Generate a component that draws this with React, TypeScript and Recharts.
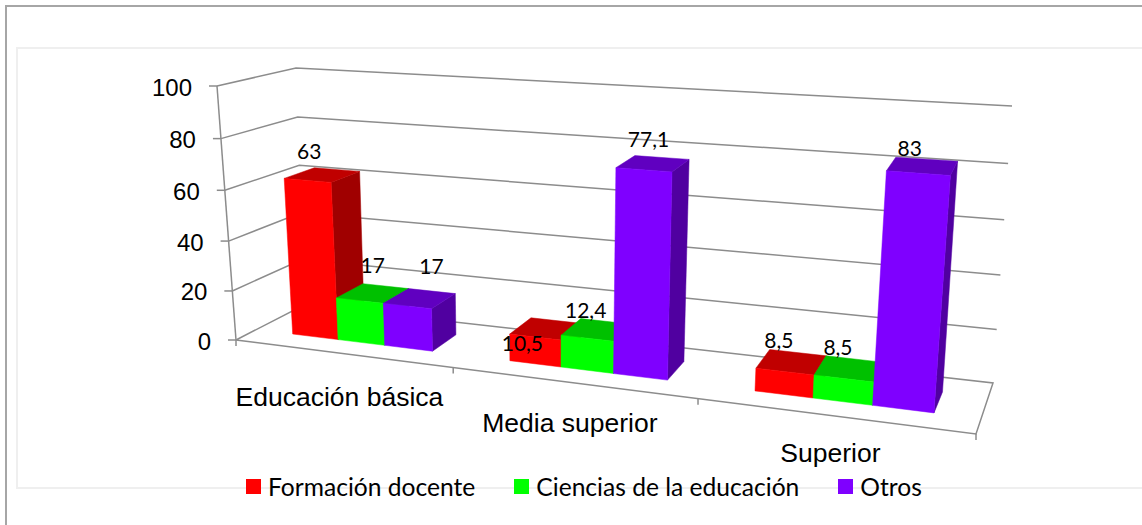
import { Bar, BarChart, CartesianGrid, LabelList, Legend, XAxis, YAxis } from "recharts";

const categories = ["Educación básica", "Media superior", "Superior"];
const formacionDocente = [63, 10.5, 8.5];
const cienciasEducacion = [17, 12.4, 8.5];
const otros = [17, 77.1, 83];
const yTicks = [0, 20, 40, 60, 80, 100];

const chartData = categories.map((name, i) => ({
  name,
  formacion: formacionDocente[i],
  ciencias: cienciasEducacion[i],
  otros: otros[i],
}));

const CHART_W = 1142;
const CHART_H = 525;
const PLOT_LEFT = 100;
const PLOT_W = 1000;
const PLOT_TOP = 20;
const PLOT_H = 405;
const PLOT_BOTTOM = PLOT_TOP + PLOT_H;

const GRID = "#8c8c8c";
const SANS = "'Liberation Sans', Arial, sans-serif";
const LABEL_FONT = "Lato, 'Open Sans', sans-serif";

// corners of the 3D box on screen: [t][v][d]
const C000 = [236, 340];
const C010 = [217, 86];
const C001 = [304, 305];
const C011 = [296, 68];
const C100 = [976, 434];
const C110 = [1000, 137];
const C101 = [993, 383];
const C111 = [1012, 106];
const PERSP_X = 0.831; // horizontal foreshortening, left side is further away
const PERSP_Y = 0.957; // vertical foreshortening, the top is a bit closer

const mix = (a: number, b: number, k: number) => a + (b - a) * k;

function project(xFlat: number, yFlat: number, d: number) {
  const t = (xFlat - PLOT_LEFT) / PLOT_W;
  const r = (PLOT_BOTTOM - yFlat) / PLOT_H;
  const s = (PERSP_X * t) / (1 + (PERSP_X - 1) * t);
  const v = (PERSP_Y * r) / (1 + (PERSP_Y - 1) * r);
  const at = (axis: number) => {
    const a = mix(mix(C000[axis], C010[axis], v), mix(C001[axis], C011[axis], v), d);
    const b = mix(mix(C100[axis], C110[axis], v), mix(C101[axis], C111[axis], v), d);
    return mix(a, b, s);
  };
  return [at(0), at(1)];
}

const pts = (list: number[][]) => list.map((p) => `${p[0].toFixed(1)},${p[1].toFixed(1)}`).join(" ");

const BAR_FRONT = 0.3;
const BAR_BACK = 0.72;
const BAR_NUDGE = 3;

function Box3D(props: any) {
  const { y, width, height, fill, topFill, sideFill } = props;
  if (width == null || height == null) return null;
  const x = props.x + BAR_NUDGE;
  const r = x + width;
  const b = y + height;
  const front = [project(x, y, BAR_FRONT), project(r, y, BAR_FRONT), project(r, b, BAR_FRONT), project(x, b, BAR_FRONT)];
  const top = [project(x, y, BAR_FRONT), project(r, y, BAR_FRONT), project(r, y, BAR_BACK), project(x, y, BAR_BACK)];
  const side = [project(r, y, BAR_FRONT), project(r, y, BAR_BACK), project(r, b, BAR_BACK), project(r, b, BAR_FRONT)];
  return (
    <g>
      <polygon points={pts(side)} fill={sideFill} stroke={sideFill} strokeWidth={0.5} />
      <polygon points={pts(top)} fill={topFill} stroke={topFill} strokeWidth={0.5} />
      <polygon points={pts(front)} fill={fill} stroke={fill} strokeWidth={0.5} />
    </g>
  );
}

// horizontal lines run along the left wall and the back wall, the zero line closes the floor
function GridLine(props: any) {
  const { x1, x2, y1, key } = props;
  const pa = project(x1, y1, 0);
  const pb = project(x1, y1, 1);
  const pc = project(x2, y1, 1);
  const isFloor = Math.abs(y1 - PLOT_BOTTOM) < 0.5;
  const list = isFloor ? [pa, pb, pc, project(x2, y1, 0), pa] : [pa, pb, pc];
  return <polyline key={key} points={pts(list)} fill="none" stroke={GRID} strokeWidth={1.5} />;
}

function YTick(props: any) {
  const { y, payload } = props;
  const p = project(PLOT_LEFT, y, 0);
  const top = project(PLOT_LEFT, PLOT_TOP, 0);
  return (
    <g>
      {payload.value === 0 && <line x1={p[0]} y1={p[1]} x2={top[0]} y2={top[1]} stroke={GRID} strokeWidth={1.5} />}
      <line x1={p[0] - 8} y1={p[1]} x2={p[0]} y2={p[1]} stroke={GRID} strokeWidth={1.5} />
      <text x={p[0] - 25} y={p[1] + 1} textAnchor="end" dominantBaseline="central" fontFamily={SANS} fontSize={24} fill="#000">
        {payload.value}
      </text>
    </g>
  );
}

function XTick(props: any) {
  const { x, payload, index } = props;
  const band = PLOT_W / categories.length;
  const p = project(x, PLOT_BOTTOM, 0);
  const t = (x - PLOT_LEFT) / PLOT_W;
  const end = project(x + band / 2, PLOT_BOTTOM, 0);
  const start = project(x - band / 2, PLOT_BOTTOM, 0);
  return (
    <g>
      {index === 0 && <line x1={start[0]} y1={start[1]} x2={start[0]} y2={start[1] + 6} stroke={GRID} strokeWidth={1.5} />}
      <line x1={end[0]} y1={end[1]} x2={end[0]} y2={end[1] + 6} stroke={GRID} strokeWidth={1.5} />
      <text x={p[0] - 2} y={p[1] + 44 - (t - 1 / 6) * 10.5} textAnchor="middle" dominantBaseline="central" fontFamily={SANS} fontSize={26.5} fill="#000">
        {payload.value}
      </text>
    </g>
  );
}

// the original labels are not centred on their bars, so each has its own shift
const formacionShift = [[-11, -24], [-21, 14], [-10, -22]];
const cienciasShift = [[2, -29], [-9, -20], [-9, -22]];
const otrosShift = [[14, -33], [-2, -25], [-10, -19]];

function topLabel(shift: number[][]) {
  return function TopLabel(props: any) {
    const { x, y, width } = props.viewBox ?? props;
    const { value, index } = props;
    const mid = (BAR_FRONT + BAR_BACK) / 2;
    const p = project(x + width / 2, y, mid);
    const [dx, dy] = shift[index];
    return (
      <text x={p[0] + dx} y={p[1] + dy} textAnchor="middle" dominantBaseline="central" fontFamily={LABEL_FONT} fontSize={21} fill="#000">
        {String(value).replace(".", ",")}
      </text>
    );
  };
}

function LegendRow(props: any) {
  const { payload } = props;
  return (
    <div style={{ display: "flex", alignItems: "center", fontFamily: LABEL_FONT, fontSize: 24.6, color: "#000" }}>
      {(payload ?? []).map((entry: any, i: number) => (
        <div key={entry.value} style={{ display: "flex", alignItems: "center", marginLeft: i === 0 ? 0 : 39 }}>
          <span style={{ width: 15, height: 15, background: entry.color, marginRight: 7, display: "inline-block" }} />
          <span>{entry.value}</span>
        </div>
      ))}
    </div>
  );
}

export default function App() {
  return (
    <div style={{ position: "absolute", left: 0, top: 0, width: CHART_W, height: CHART_H, background: "#fff", overflow: "hidden" }}>
      <div style={{ position: "absolute", left: 5, top: 5, width: CHART_W, height: CHART_H, borderLeft: "2px solid #a6a6a6", borderTop: "2px solid #a6a6a6" }} />
      <div style={{ position: "absolute", left: 16, top: 47, width: CHART_W, height: 438, borderLeft: "2px solid #efefef", borderTop: "2px solid #efefef", borderBottom: "2px solid #efefef" }} />
      <div style={{ position: "absolute", left: 0, top: 0 }}>
        <BarChart
          width={CHART_W}
          height={CHART_H}
          data={chartData}
          margin={{ top: PLOT_TOP, right: CHART_W - PLOT_LEFT - PLOT_W, bottom: 0, left: 0 }}
          barCategoryGap="17%"
          barGap={0}
        >
          <CartesianGrid vertical={false} horizontal={GridLine as any} />
          <XAxis
            dataKey="name"
            height={CHART_H - PLOT_BOTTOM}
            axisLine={false}
            tickLine={false}
            interval={0}
            tick={XTick as any}
          />
          <YAxis
            width={PLOT_LEFT}
            domain={[0, 100]}
            ticks={yTicks}
            interval={0}
            axisLine={false}
            tickLine={false}
            tick={YTick as any}
          />
          <Legend
            layout="horizontal"
            verticalAlign="middle"
            align="center"
            itemSorter={null}
            content={LegendRow as any}
            wrapperStyle={{ position: "absolute", left: 246, top: 472, width: 720, height: 32 }}
          />
          <Bar
            dataKey="formacion"
            name="Formación docente"
            fill="#ff0000"
            isAnimationActive={false}
            shape={(p: any) => <Box3D {...p} topFill="#c00000" sideFill="#a00000" />}
          >
            <LabelList dataKey="formacion" content={topLabel(formacionShift) as any} />
          </Bar>
          <Bar
            dataKey="ciencias"
            name="Ciencias de la educación"
            fill="#00ff00"
            isAnimationActive={false}
            shape={(p: any) => <Box3D {...p} topFill="#00c000" sideFill="#00a000" />}
          >
            <LabelList dataKey="ciencias" content={topLabel(cienciasShift) as any} />
          </Bar>
          <Bar
            dataKey="otros"
            name="Otros"
            fill="#7f00ff"
            isAnimationActive={false}
            shape={(p: any) => <Box3D {...p} topFill="#6000c0" sideFill="#5000a0" />}
          >
            <LabelList dataKey="otros" content={topLabel(otrosShift) as any} />
          </Bar>
        </BarChart>
      </div>
    </div>
  );
}
